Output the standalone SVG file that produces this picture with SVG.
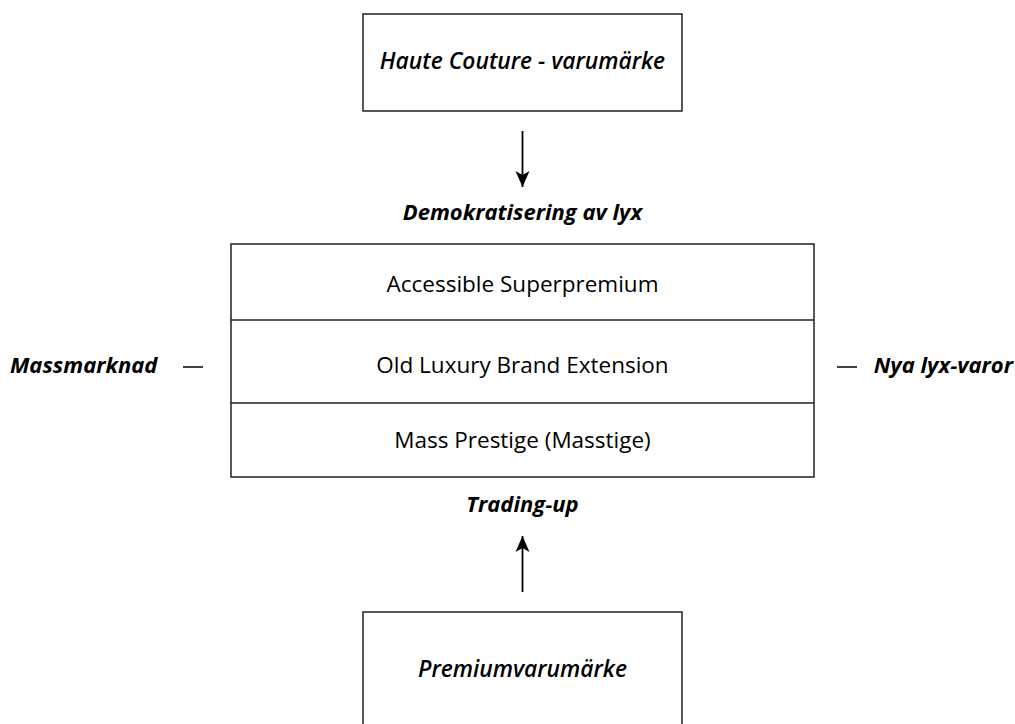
<svg xmlns="http://www.w3.org/2000/svg" width="1015" height="724" viewBox="0 0 1015 724">
<defs>
<marker id="ah" markerWidth="16" markerHeight="16" viewBox="0 0 16 16" refX="16" refY="8" orient="auto" markerUnits="userSpaceOnUse">
<path d="M0,1 L16,8 L0,15 L4,8 Z" fill="#000"/>
</marker>
<style>
.box{fill:#fff;stroke:#231f20;stroke-width:1.5}
.t{font-family:"Open Sans","Noto Sans",sans-serif;font-size:22px;fill:#000;text-anchor:middle}
.r{font-size:22.5px}
.i{font-style:italic;font-weight:600;font-size:22.8px}
.b{font-style:italic;font-weight:700}
.c{stroke:#000;stroke-width:1.8;fill:none}
.d{stroke:#000;stroke-width:1.5;fill:none}
</style>
</defs>
<rect width="1015" height="724" fill="#fff"/>
<g id="haute">
<rect class="box" x="363" y="14" width="319" height="97"/>
<text class="t i" x="522.5" y="69">Haute Couture - varumärke</text>
</g>
<g id="middle">
<rect class="box" x="231" y="244" width="583" height="233"/>
<line class="box" x1="231" y1="320" x2="814" y2="320"/>
<line class="box" x1="231" y1="403" x2="814" y2="403"/>
<text class="t r" x="522.5" y="292">Accessible Superpremium</text>
<text class="t r" x="522.5" y="373">Old Luxury Brand Extension</text>
<text class="t r" x="522.5" y="448">Mass Prestige (Masstige)</text>
</g>
<g id="premium">
<rect class="box" x="363" y="612" width="319" height="130"/>
<text class="t i" x="522.5" y="677">Premiumvarumärke</text>
</g>
<g id="labels">
<text class="t b" x="522.5" y="220">Demokratisering av lyx</text>
<text class="t b" x="522.5" y="512">Trading-up</text>
<text class="t b" x="10" y="373" style="text-anchor:start">Massmarknad</text>
<text class="t b" x="1013" y="373" style="text-anchor:end">Nya lyx-varor</text>
</g>
<g id="connectors">
<line class="c" x1="522.5" y1="131" x2="522.5" y2="187" marker-end="url(#ah)"/>
<line class="c" x1="522.5" y1="592" x2="522.5" y2="536" marker-end="url(#ah)"/>
<line class="d" x1="183" y1="367" x2="203" y2="367"/>
<line class="d" x1="837" y1="367" x2="857" y2="367"/>
</g>
</svg>
